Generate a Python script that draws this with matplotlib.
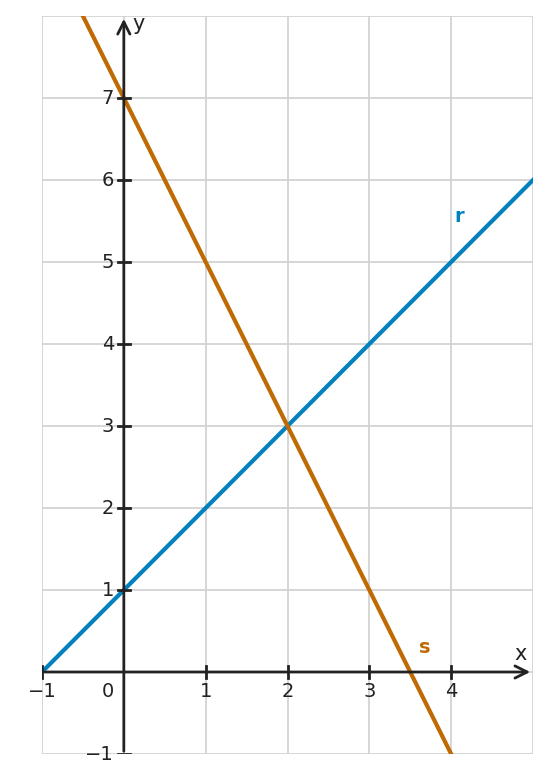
import numpy as np
import matplotlib
matplotlib.use('Agg')
import matplotlib.pyplot as plt

# data
x_range = [-1, 5]
y_range = [-1, 8]
r_slope, r_icept = 1, 1
s_slope, s_icept = -2, 7
x_ticks = [-1, 1, 2, 3, 4]
y_ticks = [-1, 1, 2, 3, 4, 5, 6, 7]

blue = '#0380BE'
orange = '#BF6A02'
dark = '#222222'

fig = plt.figure(figsize=(5.51, 7.83), dpi=100)
ax = fig.add_axes([42 / 551, 29 / 783, 491 / 551, 738 / 783])
ax.set_xlim(*x_range)
ax.set_ylim(*y_range)

ax.set_xticks(np.arange(-1, 6), minor=False)
ax.set_yticks(np.arange(-1, 9))
ax.grid(True, color='#d0d0d0', linewidth=1.2)
ax.set_xticklabels([])
ax.set_yticklabels([])
ax.tick_params(length=0)
for sp in ax.spines.values():
    sp.set_visible(False)

xs = np.array(x_range, dtype=float)
ax.plot(xs, r_slope * xs + r_icept, color=blue, lw=3, zorder=3)
ax.plot(xs, s_slope * xs + s_icept, color=orange, lw=3, zorder=3)

# axes with arrows
ax.annotate('', xy=(5.0, 0), xytext=(-1, 0),
            arrowprops=dict(arrowstyle='->', color=dark, lw=2, mutation_scale=22), zorder=4)
ax.annotate('', xy=(0, 8.0), xytext=(0, -1),
            arrowprops=dict(arrowstyle='->', color=dark, lw=2, mutation_scale=22), zorder=4)

fs = 14
for t in x_ticks:
    ax.plot([t, t], [-0.07, 0.07], color=dark, lw=2, zorder=4)
    ax.text(t, -0.12, str(t).replace('-', '\u2212'), ha='center', va='top', fontsize=fs, color=dark)
for t in y_ticks:
    ax.plot([-0.07, 0.07], [t, t], color=dark, lw=2, zorder=4)
    ax.text(-0.12, t, str(t).replace('-', '\u2212'), ha='right', va='center', fontsize=fs, color=dark)
ax.text(-0.2, -0.12, '0', ha='center', va='top', fontsize=fs, color=dark)
ax.text(4.85, 0.1, 'x', ha='center', va='bottom', fontsize=fs + 1, color=dark)
ax.text(0.1, 7.9, 'y', ha='left', va='center', fontsize=fs + 1, color=dark)

ax.text(4.1, 5.55, 'r', color=blue, fontsize=fs, fontweight='bold', ha='center', va='center')
ax.text(3.68, 0.3, 's', color=orange, fontsize=fs, fontweight='bold', ha='center', va='center')

fig.savefig('out.png', dpi=100)
